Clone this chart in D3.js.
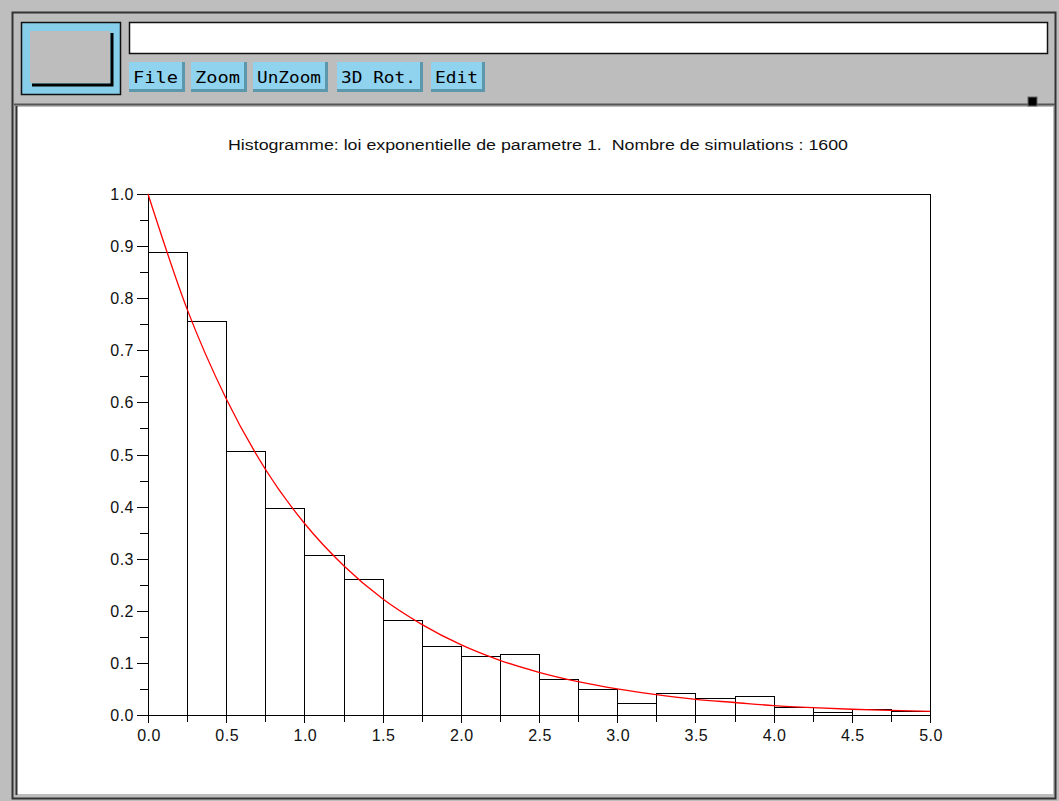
<!DOCTYPE html>
<html>
<head>
<meta charset="utf-8">
<script src="https://d3js.org/d3.v7.min.js"></script>
<style>
  body { margin: 0; background: #bebebe; }
  svg { display: block; }
</style>
</head>
<body>
<svg width="1059" height="801"></svg>
<script>
// histogram bins (width 0.25) and observed density
var binStarts = [0, 0.25, 0.5, 0.75, 1.0, 1.25, 1.5, 1.75, 2.0, 2.25,
                 2.5, 2.75, 3.0, 3.25, 3.5, 3.75, 4.0, 4.25, 4.5, 4.75];
var binWidth = 0.25;
var density = [0.889, 0.756, 0.507, 0.397, 0.307, 0.261, 0.182, 0.132, 0.113, 0.117,
               0.069, 0.050, 0.023, 0.042, 0.033, 0.036, 0.016, 0.006, 0.012, 0.007];

// theoretical curve
var curveX = [0, 0.25, 0.5, 0.75, 1.0, 1.25, 1.5, 1.75, 2.0, 2.25, 2.5,
              2.75, 3.0, 3.25, 3.5, 3.75, 4.0, 4.25, 4.5, 4.75, 5.0];
var curveY = [1.0, 0.779, 0.607, 0.472, 0.368, 0.287, 0.223, 0.174, 0.135, 0.105, 0.082,
              0.064, 0.050, 0.039, 0.030, 0.024, 0.018, 0.014, 0.011, 0.009, 0.007];

var xTicks = [0, 0.5, 1.0, 1.5, 2.0, 2.5, 3.0, 3.5, 4.0, 4.5, 5.0];
var xMinor = [0.25, 0.75, 1.25, 1.75, 2.25, 2.75, 3.25, 3.75, 4.25, 4.75];
var yTicks = [0, 0.1, 0.2, 0.3, 0.4, 0.5, 0.6, 0.7, 0.8, 0.9, 1.0];
var yMinor = [0.05, 0.15, 0.25, 0.35, 0.45, 0.55, 0.65, 0.75, 0.85, 0.95];

var buttons = ["File", "Zoom", "UnZoom", "3D Rot.", "Edit"];
var buttonX = [129, 191, 253, 337, 431];
var buttonW = [56, 56, 75, 86, 54];

var title = "Histogramme: loi exponentielle de parametre 1.  Nombre de simulations : 1600";

var svg = d3.select("svg");

// ---- window chrome ----
svg.append("rect").attr("x", 0).attr("y", 0).attr("width", 1059).attr("height", 801).attr("fill", "#bebebe");
svg.append("rect").attr("x", 12.5).attr("y", 12.5).attr("width", 1043).attr("height", 786)
  .attr("fill", "#bdbdbd").attr("stroke", "#333").attr("stroke-width", 2);

// icon box
svg.append("rect").attr("x", 21.5).attr("y", 22.5).attr("width", 99).attr("height", 72)
  .attr("fill", "#87ceeb").attr("stroke", "#111").attr("stroke-width", 1.5);
svg.append("rect").attr("x", 30).attr("y", 31).attr("width", 80).attr("height", 52).attr("fill", "#bdbdbd");
svg.append("path").attr("d", "M32,85 H112 V33").attr("fill", "none").attr("stroke", "#000").attr("stroke-width", 3);

// text field
svg.append("rect").attr("x", 129.5).attr("y", 22.5).attr("width", 918).attr("height", 31)
  .attr("fill", "#fff").attr("stroke", "#111").attr("stroke-width", 1.5);

// buttons
var btn = svg.append("g").selectAll("g").data(buttons).enter().append("g")
  .attr("transform", function(d, i) { return "translate(" + buttonX[i] + ",62)"; });
btn.append("rect").attr("x", 0).attr("y", 0).attr("width", function(d, i) { return buttonW[i]; }).attr("height", 30)
  .attr("fill", "#5d97ab");
btn.append("rect").attr("x", 0).attr("y", 0).attr("width", function(d, i) { return buttonW[i] - 3; }).attr("height", 27)
  .attr("fill", "#8fd3ee");
btn.append("text").attr("x", 4).attr("y", 21)
  .attr("font-family", "DejaVu Sans Mono").attr("font-size", 16).attr("fill", "#000")
  .attr("textLength", function(d, i) { return buttonW[i] - 11; }).attr("lengthAdjust", "spacingAndGlyphs")
  .text(function(d) { return d; });

// separator + small handle
svg.append("line").attr("x1", 14).attr("x2", 1055).attr("y1", 104.5).attr("y2", 104.5).attr("stroke", "#555").attr("stroke-width", 2);
svg.append("rect").attr("x", 1028).attr("y", 97).attr("width", 9).attr("height", 9).attr("fill", "#000").attr("stroke", "#666");

// drawing canvas
svg.append("rect").attr("x", 17).attr("y", 107).attr("width", 1036).attr("height", 687).attr("fill", "#fff");
svg.append("line").attr("x1", 16.5).attr("x2", 16.5).attr("y1", 106).attr("y2", 795).attr("stroke", "#333").attr("stroke-width", 2);

// ---- chart ----
var x0 = 148, x1 = 930, yBot = 715, yTop = 194;
var x = d3.scaleLinear().domain([0, 5]).range([x0, x1]);
var y = d3.scaleLinear().domain([0, 1]).range([yBot, yTop]);

var chart = svg.append("g").attr("shape-rendering", "crispEdges");

// frame
chart.append("rect").attr("x", x0 + 0.5).attr("y", yTop + 0.5).attr("width", x1 - x0).attr("height", yBot - yTop)
  .attr("fill", "none").attr("stroke", "#000");

// bars
chart.selectAll("rect.bar").data(density).enter().append("rect").attr("class", "bar")
  .attr("x", function(d, i) { return Math.round(x(binStarts[i])) + 0.5; })
  .attr("y", function(d) { return Math.round(y(d)) + 0.5; })
  .attr("width", function(d, i) { return Math.round(x(binStarts[i] + binWidth)) - Math.round(x(binStarts[i])); })
  .attr("height", function(d) { return yBot - Math.round(y(d)); })
  .attr("fill", "none").attr("stroke", "#000").attr("stroke-width", 1.3);

// y ticks
chart.selectAll("line.ymaj").data(yTicks).enter().append("line")
  .attr("x1", x0 - 11).attr("x2", x0)
  .attr("y1", function(d) { return Math.round(y(d)) + 0.5; }).attr("y2", function(d) { return Math.round(y(d)) + 0.5; })
  .attr("stroke", "#000");
chart.selectAll("line.ymin").data(yMinor).enter().append("line")
  .attr("x1", x0 - 8).attr("x2", x0)
  .attr("y1", function(d) { return Math.round(y(d)) + 0.5; }).attr("y2", function(d) { return Math.round(y(d)) + 0.5; })
  .attr("stroke", "#000");
// x ticks
chart.selectAll("line.xmaj").data(xTicks).enter().append("line")
  .attr("x1", function(d) { return Math.round(x(d)) + 0.5; }).attr("x2", function(d) { return Math.round(x(d)) + 0.5; })
  .attr("y1", yBot).attr("y2", yBot + 8)
  .attr("stroke", "#000");
chart.selectAll("line.xmin").data(xMinor).enter().append("line")
  .attr("x1", function(d) { return Math.round(x(d)) + 0.5; }).attr("x2", function(d) { return Math.round(x(d)) + 0.5; })
  .attr("y1", yBot).attr("y2", yBot + 7)
  .attr("stroke", "#000");

var fmt = d3.format(".1f");
svg.append("g").selectAll("text").data(yTicks).enter().append("text")
  .attr("x", 134).attr("y", function(d) { return y(d) + 6; })
  .attr("text-anchor", "end")
  .attr("font-family", "Liberation Sans").attr("font-size", 16).attr("letter-spacing", 0.5)
  .attr("fill", "#111").text(fmt);
svg.append("g").selectAll("text").data(xTicks).enter().append("text")
  .attr("x", function(d) { return x(d) + 1; }).attr("y", 741)
  .attr("text-anchor", "middle")
  .attr("font-family", "Liberation Sans").attr("font-size", 16).attr("letter-spacing", 0.5)
  .attr("fill", "#111").text(fmt);

// red theoretical curve
var line = d3.line()
  .x(function(d, i) { return x(curveX[i]); })
  .y(function(d) { return y(d); })
  .curve(d3.curveMonotoneX);
svg.append("path").datum(curveY).attr("d", line)
  .attr("fill", "none").attr("stroke", "#ff0000").attr("stroke-width", 1.3);

// title
svg.append("text").attr("x", 538).attr("y", 150).attr("text-anchor", "middle")
  .attr("font-family", "Liberation Sans").attr("font-size", 15.5).attr("fill", "#111")
  .style("white-space", "pre")
  .attr("textLength", 620).attr("lengthAdjust", "spacingAndGlyphs")
  .text(title);
</script>
</body>
</html>
